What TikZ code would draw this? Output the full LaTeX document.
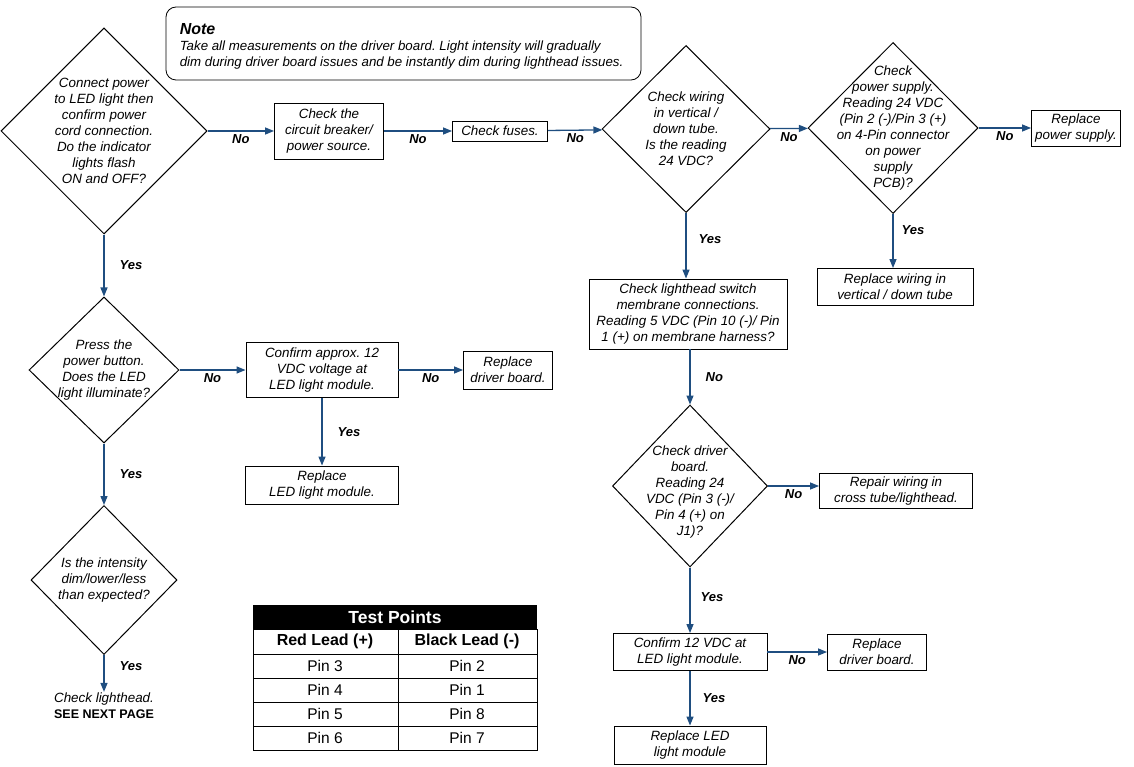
\documentclass[tikz,border=0pt]{standalone}
\usepackage{fontspec}
\setmainfont{Liberation Sans}
\usetikzlibrary{shapes.geometric,arrows.meta}

\definecolor{flowblue}{RGB}{31,78,128}

\tikzset{
  txt/.style={font=\fontsize{13.4}{16}\selectfont\itshape, align=center},
  decision/.style={draw, diamond, line width=1pt, inner sep=0pt},
  box/.style={draw, rectangle, line width=0.9pt, txt, inner sep=2pt},
  flow/.style={draw=flowblue, line width=1.3pt, -{Triangle[length=9pt,width=7pt]}},
  lbl/.style={font=\fontsize{13}{16}\selectfont\bfseries\itshape, inner sep=2pt},
  cell/.style={font=\fontsize{15.5}{17}\selectfont},
}

\begin{document}
\frenchspacing
\begin{tikzpicture}[x=1pt, y=-1pt]

  \useasboundingbox (0,0) rectangle (1134,767);

  % note
  \node[draw, rounded corners=10pt, line width=0.8pt, minimum width=475pt, minimum height=73pt] (note) at (403.5,43.5) {};
  \node[anchor=west, inner sep=0pt, align=left, font=\fontsize{13.3}{16}\selectfont\itshape] (notetxt) at ([xshift=14pt, yshift=-3pt]note.west)
    {{\fontsize{16}{18}\selectfont\bfseries Note}\\
     Take all measurements on the driver board. Light intensity will gradually\\
     dim during driver board issues and be instantly dim during lighthead issues.};

  % left column
  \node[decision, minimum width=206pt, minimum height=206pt,
        label={[txt]center:{Connect power\\to LED light then\\confirm power\\cord connection.\\Do the indicator\\lights flash\\ON and OFF?}}] (pwr) at (104,131) {};
  \node[decision, minimum width=150pt, minimum height=146pt,
        label={[txt]center:{Press the\\power button.\\Does the LED\\light illuminate?}}] (btn) at (104,370) {};
  \node[decision, minimum width=146pt, minimum height=149pt,
        label={[txt]center:{Is the intensity\\dim/lower/less\\than expected?}}] (dim) at (104,580) {};
  \node[txt, inner sep=1pt] (nextpg) at (104,706) {Check lighthead.\\{\upshape\bfseries\fontsize{12.5}{16}\selectfont SEE NEXT PAGE}};

  % top row
  \node[box, minimum width=109pt, minimum height=56pt] (breaker) at (329,131) {Check the\\circuit breaker/\\power source.};
  \node[box, minimum width=95pt, minimum height=20pt] (fuses) at (500,131) {Check fuses.};
  \node[decision, minimum width=168pt, minimum height=167pt,
        label={[txt]center:{Check wiring\\in vertical /\\down tube.\\Is the reading\\24 VDC?}}] (tube) at (686,129) {};
  \node[decision, minimum width=170pt, minimum height=171pt,
        label={[txt]center:{Check\\power supply.\\Reading 24 VDC\\(Pin 2 (-)/Pin 3 (+)\\on 4-Pin connector\\on power\\supply\\PCB)?}}] (psu) at (893,128) {};
  \node[box, minimum width=89pt, minimum height=36pt] (newpsu) at (1076,128) {Replace\\power supply.};
  \node[box, minimum width=156pt, minimum height=37pt] (newwire) at (895,287) {Replace wiring in\\vertical / down tube};

  % middle column
  \node[box, minimum width=152pt, minimum height=55pt] (approx) at (322,370) {Confirm approx. 12\\VDC voltage at\\LED light module.};
  \node[box, minimum width=89pt, minimum height=38pt] (newdrv) at (508,370) {Replace\\driver board.};
  \node[box, minimum width=153pt, minimum height=38pt] (newled) at (322,485) {Replace\\LED light module.};

  % right column
  \node[box, minimum width=198pt, minimum height=70pt] (membrane) at (688,314) {Check lighthead switch\\membrane connections.\\Reading 5 VDC (Pin 10 (-)/ Pin\\1 (+) on membrane harness?};
  \node[decision, minimum width=155pt, minimum height=162pt,
        label={[txt, yshift=-6pt]center:{Check driver\\board.\\Reading 24\\VDC (Pin 3 (-)/\\Pin 4 (+) on\\J1)?}}] (board) at (690,486) {};
  \node[box, minimum width=153pt, minimum height=35pt] (crosswire) at (896,491) {Repair wiring in\\cross tube/lighthead.};
  \node[box, minimum width=154pt, minimum height=37pt] (confirm) at (690,652) {Confirm 12 VDC at\\LED light module.};
  \node[box, minimum width=99pt, minimum height=36pt] (newdrvb) at (877,652) {Replace\\driver board.};
  \node[box, minimum width=152pt, minimum height=38pt] (newledb) at (690,745) {Replace LED\\light module};

  % connectors
  \draw[flow] (pwr) -- node[lbl, midway, below=1pt] {No} (breaker);
  \draw[flow] (breaker) -- node[lbl, midway, below=1pt] {No} (fuses);
  \draw[flow] (fuses) -- node[lbl, midway, below=1pt] {No} (tube);
  \draw[flow] (tube) -- node[lbl, midway, below=1pt] {No} (psu);
  \draw[flow] (psu) -- node[lbl, midway, below=1pt] {No} (newpsu);
  \draw[flow] (psu) -- node[lbl, pos=0.3, right=6pt] {Yes} (psu |- newwire.north);
  \draw[flow] (tube) -- node[lbl, pos=0.4, right=10pt] {Yes} (tube |- membrane.north);
  \draw[flow] (board |- membrane.south) -- node[lbl, midway, right=13pt] {No} (board);
  \draw[flow] (board.east) -- node[lbl, midway, below=1pt] {No} (board.east -| crosswire.west);
  \draw[flow] (board) -- node[lbl, pos=0.45, right=8pt] {Yes} (confirm);
  \draw[flow] (confirm) -- node[lbl, midway, below=1pt] {No} (newdrvb);
  \draw[flow] (confirm) -- node[lbl, midway, right=10pt] {Yes} (newledb);

  \draw[flow] (pwr) -- node[lbl, midway, right=13pt] {Yes} (btn);
  \draw[flow] (btn) -- node[lbl, midway, below=1pt] {No} (approx);
  \draw[flow] (approx) -- node[lbl, midway, below=1pt] {No} (newdrv);
  \draw[flow] (approx) -- node[lbl, midway, right=13pt] {Yes} (newled);
  \draw[flow] (btn) -- node[lbl, midway, right=13pt] {Yes} (dim);
  \draw[flow] (dim) -- node[lbl, pos=0.3, right=13pt] {Yes} (nextpg);

  % test points table
  \fill[black] (253,605) rectangle (537,629);
  \node[font=\fontsize{17.5}{18}\selectfont\bfseries, text=white] (tphead) at (395,617) {Test Points};
  \draw[line width=1pt] (253,629) rectangle (537,750);
  \draw[line width=1pt] (398,629) -- (398,750);
  \foreach \y in {654,678,702,726}
    \draw[line width=1pt] (253,\y) -- (537,\y);
  \node[cell, font=\fontsize{16}{17}\selectfont\bfseries] (redlead) at (325,641) {Red Lead (+)};
  \node[cell, font=\fontsize{16}{17}\selectfont\bfseries] (blklead) at (467,641) {Black Lead (-)};
  \foreach \r/\b [count=\i] in {3/2, 4/1, 5/8, 6/7} {
    \node[cell] (red\i) at (325,{642+24*\i}) {Pin \r};
    \node[cell] (blk\i) at (467,{642+24*\i}) {Pin \b};
  }

\end{tikzpicture}
\end{document}
